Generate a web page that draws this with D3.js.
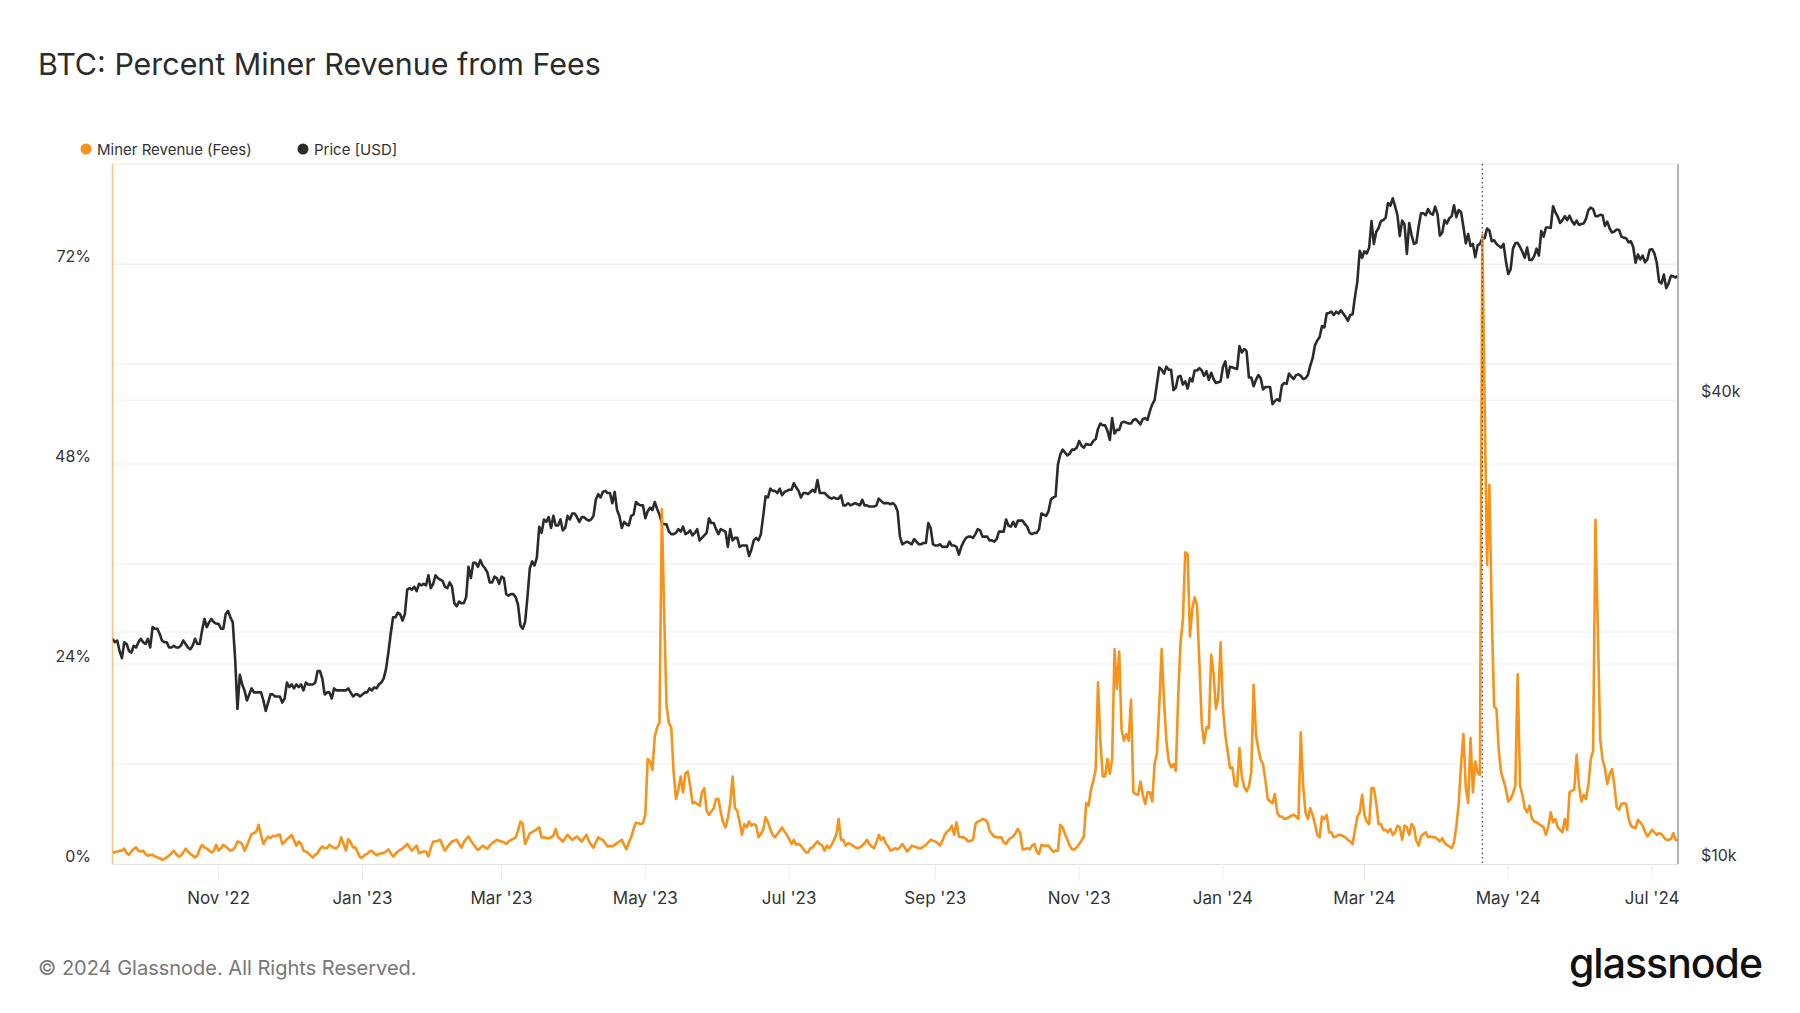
<!DOCTYPE html>
<html><head><meta charset="utf-8">
<script src="https://cdn.jsdelivr.net/npm/d3@7"></script>
<style>
html,body{margin:0;padding:0;background:#fff;}
svg{display:block;font-family:Inter,"Noto Sans",sans-serif;}
</style></head><body>
<svg id="chart" width="1800" height="1013"></svg>
<script>
// ---- data (daily, one row per month; each row starts at rowStarts[i]) ----
const rowStarts = ["2022-09-17","2022-10-01","2022-11-01","2022-12-01","2023-01-01","2023-02-01","2023-03-01","2023-04-01","2023-05-01","2023-06-01","2023-07-01","2023-08-01","2023-09-01","2023-10-01","2023-11-01","2023-12-01","2024-01-01","2024-02-01","2024-03-01","2024-04-01","2024-05-01","2024-06-01","2024-07-01"];

// BTC price, thousands of USD
const priceK = [
[19.6,19.4,19.5,18.9,18.5,19.4,19.3,18.9,18.8,19.2,19.1,19.4,19.6,19.4],
[19.3,19.6,19.1,20.3,20.2,20.2,19.9,19.5,19.4,19.4,19.1,19.1,19.2,19.1,19.1,19.2,19.5,19.3,19.1,19.0,19.2,19.6,19.3,19.3,20.1,20.8,20.3,20.6,20.8,20.6,20.5],
[20.5,20.2,20.2,21.1,21.3,20.9,20.6,18.5,15.9,17.6,17.1,16.8,16.3,16.6,16.9,16.7,16.7,16.7,16.7,16.3,15.8,16.2,16.6,16.6,16.5,16.5,16.5,16.2,16.4,17.2],
[16.97,17.1,16.9,17.1,16.97,17.1,16.8,17.2,17.1,17.1,17.1,17.2,17.8,17.8,17.4,16.6,16.7,16.7,16.4,16.9,16.8,16.8,16.8,16.8,16.8,16.9,16.7,16.5,16.6,16.6,16.5],
[16.6,16.7,16.7,16.9,16.8,16.95,16.9,17.1,17.2,17.4,17.9,18.8,19.9,20.9,20.9,21.2,21.1,20.7,21.1,22.7,22.8,22.7,22.9,22.6,23.1,23.0,23.1,23.0,23.7,22.8,23.1],
[23.7,23.5,23.4,23.3,22.9,22.8,23.2,22.9,21.8,21.6,21.9,21.8,21.8,22.2,24.3,23.5,24.6,24.6,24.3,24.8,24.4,24.2,23.9,23.2,23.2,23.6,23.5,23.1],
[23.6,23.5,22.4,22.3,22.4,22.4,22.2,21.7,20.4,20.2,20.6,22.2,24.2,24.7,24.4,25.0,27.4,26.9,28.0,27.8,28.2,27.3,28.3,27.5,27.5,28.0,27.1,27.3,28.3,28.0,28.5],
[28.5,28.2,27.8,28.2,28.2,28.0,27.9,28.0,28.3,29.7,30.2,29.9,30.4,30.5,30.3,30.3,29.4,30.4,28.8,28.3,27.3,27.8,27.6,27.5,28.3,28.4,29.5,29.3,29.2,29.2],
[28.1,28.7,29.0,28.8,29.5,28.9,28.4,27.7,27.6,27.6,27.0,26.8,26.8,26.9,27.2,27.0,27.4,26.8,26.9,27.1,26.7,26.9,27.2,26.3,26.5,26.7,26.9,28.1,27.7,27.7,27.2],
[26.8,27.2,27.1,27.0,25.8,27.2,26.3,26.5,26.5,25.8,25.9,25.9,25.9,25.1,25.6,26.3,26.5,26.3,26.8,28.3,30.0,29.9,30.7,30.5,30.5,30.3,30.7,30.1,30.4,30.5],
[30.6,30.6,31.2,30.8,30.5,29.9,30.3,30.3,30.2,30.4,30.6,30.4,31.5,30.3,30.3,30.3,30.1,29.9,29.8,29.9,29.8,29.8,30.1,29.2,29.2,29.4,29.2,29.3,29.4,29.3,29.2],
[29.7,29.2,29.2,29.1,29.1,29.1,29.2,29.8,29.6,29.4,29.4,29.4,29.3,29.4,29.2,28.7,26.6,26.0,26.1,26.2,26.1,26.0,26.4,26.2,26.0,26.0,26.1,26.1,27.7,27.3,26.0],
[25.9,25.9,26.0,25.8,25.8,25.8,26.2,25.9,25.9,25.8,25.2,25.8,26.2,26.5,26.6,26.6,26.5,26.8,27.2,27.1,26.6,26.6,26.6,26.3,26.3,26.2,26.4,27.0,27.0,27.0],
[28.0,27.5,27.4,27.8,27.4,27.9,27.9,27.9,27.6,27.4,26.9,26.8,26.9,26.9,27.2,28.5,28.4,28.3,28.7,29.7,29.9,30.0,33.0,34.0,34.5,34.2,33.9,34.1,34.5,34.5,34.7],
[35.4,34.9,34.7,35.1,35.0,35.0,35.4,35.6,36.7,37.3,37.1,37.1,36.5,35.5,37.9,36.2,36.6,36.6,37.4,37.5,37.4,37.3,37.3,37.7,37.8,37.5,37.2,37.8,37.9,37.7],
[38.7,39.5,40.0,42.0,44.1,43.8,43.3,44.2,43.8,43.8,41.2,41.5,42.9,43.0,41.9,42.3,41.4,42.7,42.3,43.7,43.7,44.0,43.7,43.0,43.6,42.5,43.4,42.6,42.1,42.2,42.3],
[44.2,44.9,42.8,44.2,44.1,44.0,43.9,47.0,46.1,46.6,46.3,42.8,42.8,41.7,42.5,43.1,42.7,41.3,41.6,41.6,41.6,39.5,39.9,40.1,39.9,41.8,42.1,42.0,43.3,42.9,42.6],
[43.1,43.2,43.0,42.6,42.7,43.1,44.3,45.3,47.1,47.8,48.3,49.9,49.7,51.8,51.9,52.1,51.6,52.1,51.8,52.3,51.8,51.3,50.7,51.6,51.7,54.5,57.0,62.5,61.2],
[62.4,62.0,63.1,68.3,63.8,66.1,66.9,68.3,68.5,69.0,72.1,71.5,73.1,71.4,69.5,65.3,68.4,67.6,61.9,67.9,65.5,63.8,64.0,67.2,69.9,69.9,69.5,70.8,69.9,69.6,71.3],
[69.7,65.4,66.0,68.5,67.8,68.9,69.3,71.6,69.1,70.6,70.1,67.1,63.9,65.7,63.4,63.8,61.3,63.5,63.8,64.9,64.9,66.8,66.4,64.3,64.5,63.8,63.4,63.1,63.8,60.6],
[58.3,59.1,62.9,63.9,64.0,63.2,62.3,61.2,63.1,60.8,60.8,61.5,62.9,61.6,66.3,65.2,67.0,67.0,66.9,71.4,70.1,69.2,67.9,68.5,69.3,68.5,69.4,68.3,67.6,68.4,67.5],
[67.7,67.8,68.8,70.6,71.1,70.8,69.3,69.3,69.6,69.5,67.3,68.2,66.8,66.0,66.2,66.6,66.5,65.2,65.0,64.9,64.1,64.3,63.2,60.3,61.8,60.9,61.6,60.4,60.9,62.7],
[62.8,62.0,60.3,57.0,56.7,58.2,55.9,56.7,58.0,57.9,57.7,58.0]
];

// Percent of miner revenue from fees
const feePct = [
[1.4,1.4,1.5,1.6,1.6,1.85,1.3,1.1,1.5,1.8,2.0,1.6,1.5,1.6],
[1.2,1.0,1.1,1.1,0.9,0.8,0.7,0.5,0.6,0.8,1.0,1.3,1.6,1.2,0.9,1.0,1.4,1.85,1.5,1.2,1.0,0.8,1.0,1.8,2.3,2.0,1.85,1.6,1.4,1.6,2.3],
[1.6,1.9,2.3,2.1,1.85,1.6,1.7,2.0,2.7,2.6,2.4,1.6,2.2,2.9,3.6,3.7,3.9,4.7,3.5,2.4,2.9,3.3,3.1,3.4,3.3,3.5,3.5,2.4,2.6,3.0],
[3.2,3.5,2.8,2.2,2.7,2.4,1.6,1.5,1.3,1.0,0.8,1.1,1.3,1.8,2.1,1.9,1.9,2.3,2.1,1.9,1.9,2.2,3.2,2.4,1.6,3.0,2.6,2.0,2.0,1.4,0.8],
[0.8,1.1,1.2,1.5,1.6,1.3,1.05,1.2,1.3,1.3,1.5,1.75,1.3,0.9,1.2,1.5,1.7,1.85,2.1,2.4,2.0,1.6,1.9,2.2,1.3,1.4,1.5,1.5,0.9,1.9,2.7],
[2.7,2.8,2.9,2.2,1.6,2.0,2.4,2.7,2.8,2.9,2.4,1.95,2.6,3.0,3.3,2.8,2.4,2.0,1.7,1.9,2.2,2.0,1.85,2.2,2.5,2.7,2.9,2.8],
[2.7,2.6,2.4,2.7,2.9,3.0,3.2,4.0,5.1,4.8,2.4,3.0,3.7,3.8,4.0,4.2,4.4,3.2,3.2,3.1,3.1,3.2,3.4,4.2,3.2,3.0,2.7,3.1,3.5,3.2,2.9],
[3.1,3.3,3.0,2.7,3.1,3.5,2.8,2.3,1.95,2.6,3.2,3.0,2.9,2.5,2.1,2.2,2.1,2.3,2.5,2.7,2.9,2.3,1.75,2.6,3.2,4.2,4.96,4.9,4.8,4.9],
[5.9,12.6,12.3,11.3,15.3,16.4,17.0,42.6,30.0,19.0,16.9,16.4,11.0,7.8,8.9,10.5,8.6,10.9,11.1,9.4,7.3,7.4,7.2,7.0,8.6,9.1,6.4,5.9,6.3,6.7,7.8],
[7.8,6.2,5.0,4.4,5.5,7.3,10.5,6.7,6.4,5.0,3.5,4.8,4.4,5.1,4.6,4.8,4.6,3.2,3.6,4.1,5.6,5.0,4.2,3.5,3.2,3.6,4.0,4.4,3.9,3.5],
[3.0,2.4,2.9,2.3,2.4,2.2,1.8,1.4,1.4,1.9,2.0,2.4,2.7,2.4,2.2,1.6,2.2,1.9,2.3,2.9,3.5,5.4,2.9,2.9,2.2,2.5,2.4,2.2,2.0,1.9,2.0],
[2.2,2.5,2.9,2.4,2.1,1.9,2.6,3.5,2.9,3.2,2.5,2.1,1.6,1.7,1.9,1.75,2.0,2.4,2.0,1.5,1.8,2.2,2.1,2.0,1.9,1.9,2.1,2.3,2.6,2.9,2.8],
[2.7,2.5,2.2,2.8,3.5,3.9,4.1,4.6,3.5,5.0,3.3,3.2,3.2,3.0,2.7,2.8,2.9,4.8,5.1,5.2,5.4,5.3,5.1,4.0,3.6,3.3,3.2,3.2,3.2,2.6],
[2.4,2.9,3.1,3.3,3.7,4.2,3.7,1.75,1.8,1.9,1.75,2.2,2.4,1.5,1.2,2.3,2.2,2.2,2.2,1.8,1.45,1.6,1.6,4.7,4.4,3.6,2.9,2.2,1.75,1.75,2.0],
[2.4,2.8,3.3,7.3,7.0,8.9,10.0,11.3,21.8,14.8,10.5,10.5,12.6,10.8,12.6,25.8,21.0,25.5,16.1,14.8,15.6,14.8,19.7,8.6,8.4,8.3,9.9,8.3,7.2,8.6],
[8.6,7.5,12.0,13.3,19.1,25.8,19.6,14.8,12.3,11.6,12.0,11.2,20.0,26.6,29.3,37.4,37.2,27.3,30.7,32.0,31.0,24.0,16.9,14.5,16.4,16.3,25.1,22.9,18.6,20.0,26.6],
[18.6,15.5,13.5,11.5,11.6,9.5,9.3,13.9,10.5,9.3,8.7,9.3,11.0,21.5,15.5,13.8,12.5,12.0,10.0,7.8,7.5,7.3,8.4,6.2,5.7,5.7,5.4,5.5,5.6,5.8,5.9],
[5.7,5.4,15.8,9.4,6.2,5.4,6.7,5.9,4.8,3.5,3.2,5.7,5.4,5.9,3.8,3.8,3.2,3.3,3.5,3.5,3.3,3.2,2.9,2.7,2.4,4.1,5.7,6.2,8.3],
[5.9,5.1,4.8,9.1,9.1,7.3,4.8,4.8,4.1,4.1,3.8,4.2,3.5,3.8,4.6,4.4,2.9,4.6,4.4,3.5,4.8,4.4,2.8,2.2,3.3,3.6,3.8,3.2,3.3,3.2,3.2],
[3.0,2.7,3.1,2.5,2.3,2.1,1.9,2.6,4.5,7.3,12.0,15.6,9.1,7.3,15.1,8.6,12.3,11.0,10.7,75.5,55.0,35.9,45.5,30.0,18.9,18.6,13.5,11.0,10.0,9.0],
[7.5,7.8,8.5,9.4,22.8,9.4,8.3,6.7,6.2,7.0,5.5,5.1,5.0,4.8,4.6,4.4,3.5,4.5,6.2,5.0,5.4,4.4,4.1,3.8,5.4,4.1,8.6,8.8,8.9,13.1,9.4],
[7.5,8.3,7.8,9.5,12.6,13.6,41.3,28.0,15.0,12.5,11.5,9.6,10.8,11.4,9.5,6.8,6.5,7.2,7.3,7.2,5.5,4.6,4.4,4.3,5.3,5.0,4.6,3.9,3.3,3.7],
[4.1,3.8,3.5,3.7,3.6,3.2,2.9,2.9,3.0,3.7,2.9,2.8]
];

const leftTicks = [0, 24, 48, 72];
const leftGrid = [12, 24, 36, 48, 60, 72];
const rightTicks = [10000, 40000];
const rightGrid = [20000, 40000, 60000];
const xTickDates = ["2022-11-01","2023-01-01","2023-03-01","2023-05-01","2023-07-01","2023-09-01","2023-11-01","2024-01-01","2024-03-01","2024-05-01","2024-07-01"];
const xTickLabels = ["Nov '22","Jan '23","Mar '23","May '23","Jul '23","Sep '23","Nov '23","Jan '24","Mar '24","May '24","Jul '24"];
const halvingDate = "2024-04-20";
const seriesNames = ["Miner Revenue (Fees)", "Price [USD]"];

// ---- build ----
const parse = d3.utcParse("%Y-%m-%d");
function flatten(rows, mult) {
  const out = [];
  rows.forEach((row, r) => {
    const s = parse(rowStarts[r]);
    row.forEach((v, j) => out.push({date: d3.utcDay.offset(s, j), v: v * mult}));
  });
  return out;
}
const price = flatten(priceK, 1000);
const fees = flatten(feePct, 1);

const L = 112.5, R = 1678, T = 164, B = 864;
const svg = d3.select("#chart");
const x = d3.scaleUtc().domain([parse("2022-09-17"), parse("2024-07-12")]).range([L, R]);
const yL = d3.scaleLinear().domain([0, 84]).range([B, T]);
const yR = d3.scaleLog().domain([10000, 81000]).range([B, T]);

// title
svg.append("text").attr("x", 38).attr("y", 75).attr("font-size", 30.4).attr("fill", "#2b2b2b")
  .text("BTC: Percent Miner Revenue from Fees");

// legend
const lg = svg.append("g");
const legendItems = [{name: seriesNames[0], c: "#f7931a", x: 86}, {name: seriesNames[1], c: "#2b2b2b", x: 303}];
legendItems.forEach(it => {
  lg.append("circle").attr("cx", it.x).attr("cy", 149).attr("r", 5.5).attr("fill", it.c);
  lg.append("text").attr("x", it.x + 11).attr("y", 154.5).attr("font-size", 15).attr("fill", "#333").text(it.name);
});

// grid
const grid = svg.append("g");
grid.selectAll("line.gl").data(leftGrid).join("line")
  .attr("x1", L).attr("x2", R).attr("y1", d => yL(d)).attr("y2", d => yL(d))
  .attr("stroke", "#efefef").attr("stroke-width", 1);
grid.selectAll("line.gr").data(rightGrid).join("line").attr("class","gr")
  .attr("x1", L).attr("x2", R).attr("y1", d => yR(d)).attr("y2", d => yR(d))
  .attr("stroke", "#efefef").attr("stroke-width", 1);
svg.append("line").attr("x1", L).attr("x2", R).attr("y1", T).attr("y2", T).attr("stroke", "#e8e8e8");
svg.append("line").attr("x1", L).attr("x2", R).attr("y1", B + 0.5).attr("y2", B + 0.5).attr("stroke", "#e2e2e2");

// x ticks
const xt = svg.append("g");
xTickDates.forEach((d, i) => {
  const px = x(parse(d));
  xt.append("line").attr("x1", px).attr("x2", px).attr("y1", B).attr("y2", B + 16).attr("stroke", "#ececec");
  xt.append("text").attr("x", px).attr("y", 904).attr("text-anchor", "middle").attr("font-size", 17)
    .attr("fill", "#333").text(xTickLabels[i]);
});

// y labels
leftTicks.forEach(t => {
  svg.append("text").attr("x", 91).attr("y", yL(t) - 2).attr("text-anchor", "end")
    .attr("font-size", 16).attr("fill", "#333").text(t + "%");
});
rightTicks.forEach(t => {
  svg.append("text").attr("x", 1701).attr("y", yR(t) - 3).attr("text-anchor", "start")
    .attr("font-size", 16).attr("fill", "#333").text("$" + (t / 1000) + "k");
});

// clip
svg.append("clipPath").attr("id", "clip").append("rect").attr("x", L).attr("y", T - 2).attr("width", R - L).attr("height", B - T + 2);

const plot = svg.append("g").attr("clip-path", "url(#clip)");
plot.append("path").datum(price)
  .attr("d", d3.line().x(d => x(d.date)).y(d => yR(d.v)))
  .attr("fill", "none").attr("stroke", "#2b2b2b").attr("stroke-width", 2.6).attr("stroke-linejoin", "round");
plot.append("path").datum(fees)
  .attr("d", d3.line().x(d => x(d.date)).y(d => yL(d.v)))
  .attr("fill", "none").attr("stroke", "#f7931a").attr("stroke-width", 2.6).attr("stroke-linejoin", "round");

// axis lines
svg.append("line").attr("x1", L).attr("x2", L).attr("y1", T).attr("y2", B).attr("stroke", "#f7931a").attr("stroke-opacity", 0.55).attr("stroke-width", 1.5);
svg.append("line").attr("x1", R).attr("x2", R).attr("y1", T).attr("y2", B).attr("stroke", "#9a9a9a").attr("stroke-width", 1.5);

// halving marker
const hx = x(parse(halvingDate));
svg.append("line").attr("x1", hx).attr("x2", hx).attr("y1", T).attr("y2", B)
  .attr("stroke", "#444").attr("stroke-width", 1.2).attr("stroke-dasharray", "1.5,3");

// footer
svg.append("text").attr("x", 38).attr("y", 975).attr("font-size", 20).attr("fill", "#777")
  .text("© 2024 Glassnode. All Rights Reserved.");
svg.append("text").attr("x", 1762).attr("y", 978).attr("text-anchor", "end").attr("font-size", 41)
  .attr("font-weight", 500).attr("fill", "#111").attr("letter-spacing", -1).text("glassnode");
</script>
</body></html>
